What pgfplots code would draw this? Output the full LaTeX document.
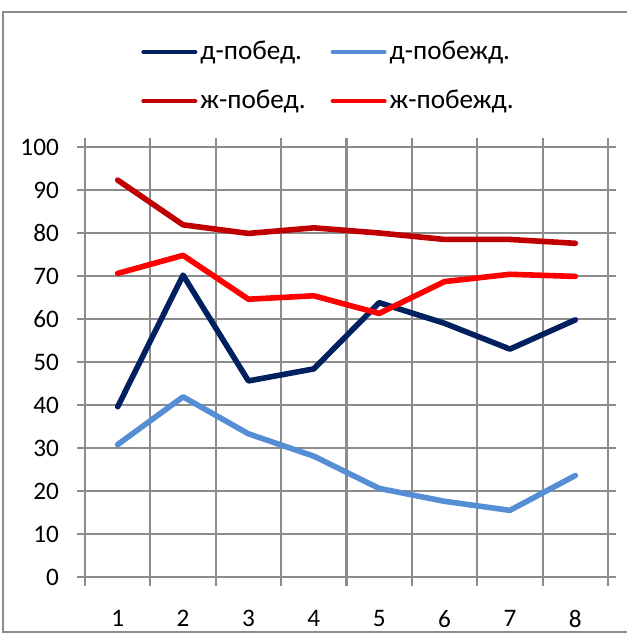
\documentclass[border=0pt]{standalone}
\usepackage{pgfplots}
\pgfplotsset{compat=1.18}
\usepackage{fontspec}
\setmainfont{Carlito}
\definecolor{dblue}{HTML}{002060}
\definecolor{lblue}{HTML}{558ED5}
\definecolor{dred}{HTML}{C00000}
\definecolor{gridgray}{HTML}{8C8C8C}
\begin{document}
\fontsize{12.4}{15}\selectfont
\begin{tikzpicture}
% page = 627x638 px at 0.5pt per px, axis box lower left at (0,0)
\path[use as bounding box] (-42.5pt,-30.5pt) rectangle (271pt,288.5pt);
\draw[gridgray, line width=0.6pt] (-41pt,-27.5pt) rectangle (275pt,282.5pt);
\begin{axis}[
    width=261.5pt, height=215pt,
    scale only axis,
    xmin=0.5, xmax=8.5,
    ymin=0, ymax=100,
    xtick={1,...,8},
    minor xtick={0.5,1.5,...,8.5},
    ytick={0,10,...,100},
    xminorgrids, ymajorgrids,
    grid style={gridgray, line width=1pt},
    minor grid style={gridgray, line width=1pt},
    axis line style={gridgray, line width=1pt},
    tick style={gridgray, line width=1pt},
    tick align=outside,
    xtick style={/pgfplots/major tick length=0pt},
    minor tick length=4.5pt,
    ytick style={/pgfplots/major tick length=4pt},
    xticklabel style={yshift=-8pt},
    yticklabel style={xshift=-4.5pt},
    /pgf/number format/assume math mode=true,
    tick label style={font=\fontsize{12.6}{15}\selectfont},
    legend columns=2,
    legend style={draw=none, fill=none, at={(rel axis cs:0.107,1.255)}, anchor=north west,
      font=\fontsize{13.6}{16}\selectfont, inner sep=0pt,
      nodes={inner sep=1.5pt},
      /tikz/every even column/.append style={column sep=11pt},
      row sep=10.5pt},
    legend cell align=left,
    legend image code/.code={\draw[#1, line width=2pt, line cap=round] (0pt,0pt) -- (26pt,0pt);},
    every axis plot/.append style={line width=2.8pt, line cap=round, line join=round},
]
\addplot[dblue] coordinates {(1,39.6) (2,70.2) (3,45.6) (4,48.4) (5,63.8) (6,59.0) (7,53.0) (8,59.8)};
\addlegendentry{д-побед.}
\addplot[lblue] coordinates {(1,30.8) (2,41.9) (3,33.3) (4,28.1) (5,20.6) (6,17.6) (7,15.5) (8,23.6)};
\addlegendentry{д-побежд.}
\addplot[dred] coordinates {(1,92.3) (2,81.9) (3,79.9) (4,81.2) (5,80.0) (6,78.5) (7,78.5) (8,77.6)};
\addlegendentry{ж-побед.}
\addplot[red] coordinates {(1,70.6) (2,74.8) (3,64.6) (4,65.4) (5,61.3) (6,68.7) (7,70.4) (8,69.9)};
\addlegendentry{ж-побежд.}
\end{axis}
\end{tikzpicture}
\end{document}
